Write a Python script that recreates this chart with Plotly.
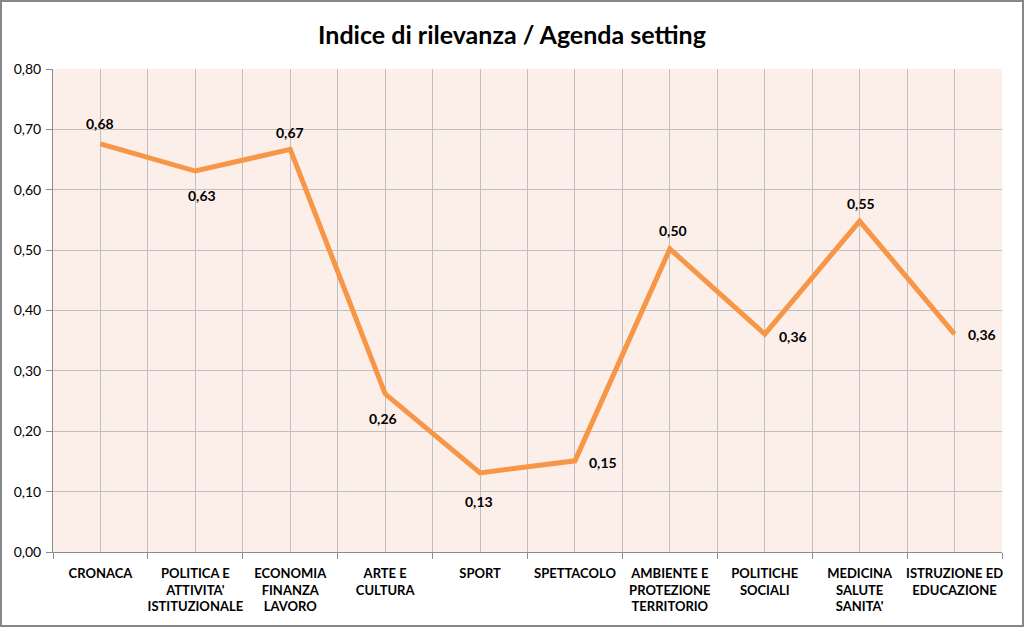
import plotly.graph_objects as go

categories = ["CRONACA", "POLITICA E<br>ATTIVITA'<br>ISTITUZIONALE", "ECONOMIA<br>FINANZA<br>LAVORO",
              "ARTE E<br>CULTURA", "SPORT", "SPETTACOLO", "AMBIENTE E<br>PROTEZIONE<br>TERRITORIO",
              "POLITICHE<br>SOCIALI", "MEDICINA<br>SALUTE<br>SANITA'", "ISTRUZIONE ED<br>EDUCAZIONE"]
values = [0.676, 0.631, 0.667, 0.262, 0.131, 0.151, 0.502, 0.361, 0.548, 0.361]
label_dx = [0, 7, 0, -2, -1, 28, 3, 28, 1, 27]
label_dy = [20, -24, 17, -25, -29, -2, 18, -2, 18, 0]
y_ticks = [0.0, 0.1, 0.2, 0.3, 0.4, 0.5, 0.6, 0.7, 0.8]

xs = list(range(len(categories)))
labels = [f"{v:.2f}".replace(".", ",") for v in values]

fig = go.Figure()
fig.add_trace(go.Scatter(
    x=xs, y=values, mode="lines",
    line=dict(color="#F79646", width=5),
    showlegend=False, hoverinfo="skip",
))

annotations = [dict(x=x, y=v, text=f"<b>{t}</b>", showarrow=False, xshift=dx, yshift=dy,
                    font=dict(family="Lato", size=14, color="black"))
               for x, v, t, dx, dy in zip(xs, values, labels, label_dx, label_dy)]

W, H = 1024, 627
ml, mr, mt, mb = 53, 22, 69, 75
pw, ph = W - ml - mr, H - mt - mb

fig.update_layout(
    width=W, height=H,
    margin=dict(l=ml, r=mr, t=mt, b=mb),
    paper_bgcolor="white", plot_bgcolor="#FCEEE8",
    title=dict(text="<b>Indice di rilevanza / Agenda setting</b>", x=0.5, xanchor="center",
               y=1 - 35 / H, yanchor="middle",
               font=dict(family="Lato", size=25, color="black")),
    annotations=annotations,
    xaxis=dict(
        range=[-0.5, 9.5], tickmode="array", tickvals=xs, ticktext=categories,
        tickfont=dict(family="Lato", size=13, color="black", weight="bold"),
        showgrid=True, gridcolor="#BFBFBF", gridwidth=1,
        showline=True, linecolor="#8C8C8C", linewidth=1,
        ticks="", zeroline=False, ticklabelstandoff=9,
        minor=dict(tickvals=[i - 0.5 for i in range(11)], showgrid=True, gridcolor="#BFBFBF",
                   gridwidth=1, ticks="outside", ticklen=6, tickcolor="#8C8C8C"),
        fixedrange=True,
    ),
    yaxis=dict(
        range=[0, 0.8], tickmode="array", tickvals=y_ticks,
        ticktext=[f"{v:.2f}".replace(".", ",") for v in y_ticks],
        tickfont=dict(family="Lato", size=14, color="black"),
        showgrid=True, gridcolor="#BFBFBF", gridwidth=1,
        showline=True, linecolor="#8C8C8C", linewidth=1,
        ticks="outside", ticklen=6, tickcolor="#8C8C8C", zeroline=False,
        ticklabelstandoff=2,
        fixedrange=True,
    ),
    shapes=[dict(type="rect", xref="paper", yref="paper",
                 x0=-(ml - 1) / pw, x1=1 + (mr - 1) / pw,
                 y0=-(mb - 1) / ph, y1=1 + (mt - 1) / ph,
                 line=dict(color="#878787", width=2), fillcolor="rgba(0,0,0,0)", layer="above")],
)

fig.write_html("out.html", config={"displayModeBar": False},
               post_script="document.body.style.margin='0';document.body.style.overflow='hidden';")
